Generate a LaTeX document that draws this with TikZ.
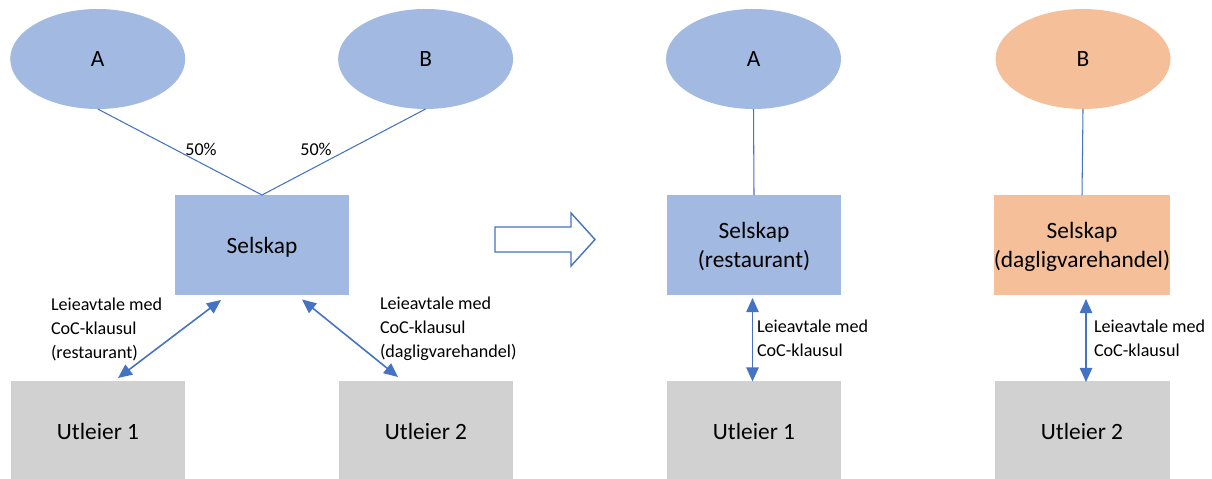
\documentclass[tikz,border=0pt]{standalone}
\usepackage{fontspec}
\setmainfont{Carlito}
\usepackage{tikz}
\usetikzlibrary{shapes.geometric,arrows.meta}
\definecolor{eierblaa}{HTML}{A2B9E1}
\definecolor{eieroransje}{HTML}{F5BF99}
\definecolor{utleiergraa}{HTML}{D1D1D1}
\definecolor{linjeblaa}{HTML}{4472C4}

\begin{document}
\begin{tikzpicture}[x=0.02cm, y=-0.02cm,
    every node/.style={font=\fontsize{13.3}{18}\selectfont, inner sep=0pt, outer sep=0pt},
    eier/.style={ellipse, fill=eierblaa, minimum width=3.5cm, minimum height=2cm},
    selskap/.style={rectangle, fill=eierblaa, minimum width=3.5cm, minimum height=2cm, align=center,
        font=\fontsize{13.3}{16.5}\selectfont, text depth=0pt},
    utleier/.style={rectangle, fill=utleiergraa, minimum width=3.5cm, minimum height=2cm},
    avtale/.style={font=\fontsize{10.3}{13.6}\selectfont, align=left, anchor=north west},
    andel/.style={font=\fontsize{10.3}{13.6}\selectfont},
    linje/.style={draw=linjeblaa, line width=0.6pt},
    pil/.style={draw=linjeblaa, line width=0.9pt, {Triangle[length=8pt,width=7pt]}-{Triangle[length=8pt,width=7pt]}}]
    \useasboundingbox (0,0) rectangle (1212,479);

    \node[eier] (A) at (97.7, 59) {A};
    \node[eier] (B) at (425.6, 59) {B};
    \node[selskap] (S) at (262, 245) {Selskap};
    \node[utleier] (U1) at (98, 431) {Utleier 1};
    \node[utleier] (U2) at (426, 431) {Utleier 2};

    \draw[linje] (A.south) -- (S.north);
    \draw[linje] (B.south) -- (S.north);
    \node[andel] (pA) at (201, 149) {50\%};
    \node[andel] (pB) at (316, 149) {50\%};

    \draw[pil] ([shift={(-41,5)}]S.south) -- ([shift={(20,-3)}]U1.north);
    \draw[pil] ([shift={(40,4.5)}]S.south) -- ([shift={(-28,-4)}]U2.north);
    \node[avtale] (l1) at (51, 298) {Leieavtale med\\CoC-klausul\\(restaurant)};
    \node[avtale] (l2) at (380, 297) {Leieavtale med\\CoC-klausul\\(dagligvarehandel)};

    \draw[linjeblaa, fill=white, line width=0.8pt] (495,227) -- (571,227) -- (571,213) -- (595,239.5)
        -- (571,266) -- (571,252) -- (495,252) -- cycle;

    \node[eier] (A2) at (753.5, 59) {A};
    \node[selskap] (Sr) at (754, 245) {Selskap\\(restaurant)};
    \node[utleier] (Ur) at (754, 431) {Utleier 1};
    \draw[linje] (A2.south) -- (Sr.north);
    \draw[pil] ([shift={(-1.5,3)}]Sr.south) -- ([shift={(-1.5,0.5)}]Ur.north);
    \node[avtale] (l3) at (757, 320) {Leieavtale med\\CoC-klausul};

    \node[eier, fill=eieroransje] (B2) at (1083, 59) {B};
    \node[selskap, fill=eieroransje] (Sd) at (1082, 245) {Selskap\\(dagligvarehandel)};
    \node[utleier] (Ud) at (1082, 431) {Utleier 2};
    \draw[linje] (B2.south) -- (Sd.north);
    \draw[pil] ([shift={(4,4)}]Sd.south) -- ([shift={(4,1)}]Ud.north);
    \node[avtale] (l4) at (1094, 320) {Leieavtale med\\CoC-klausul};
\end{tikzpicture}
\end{document}
